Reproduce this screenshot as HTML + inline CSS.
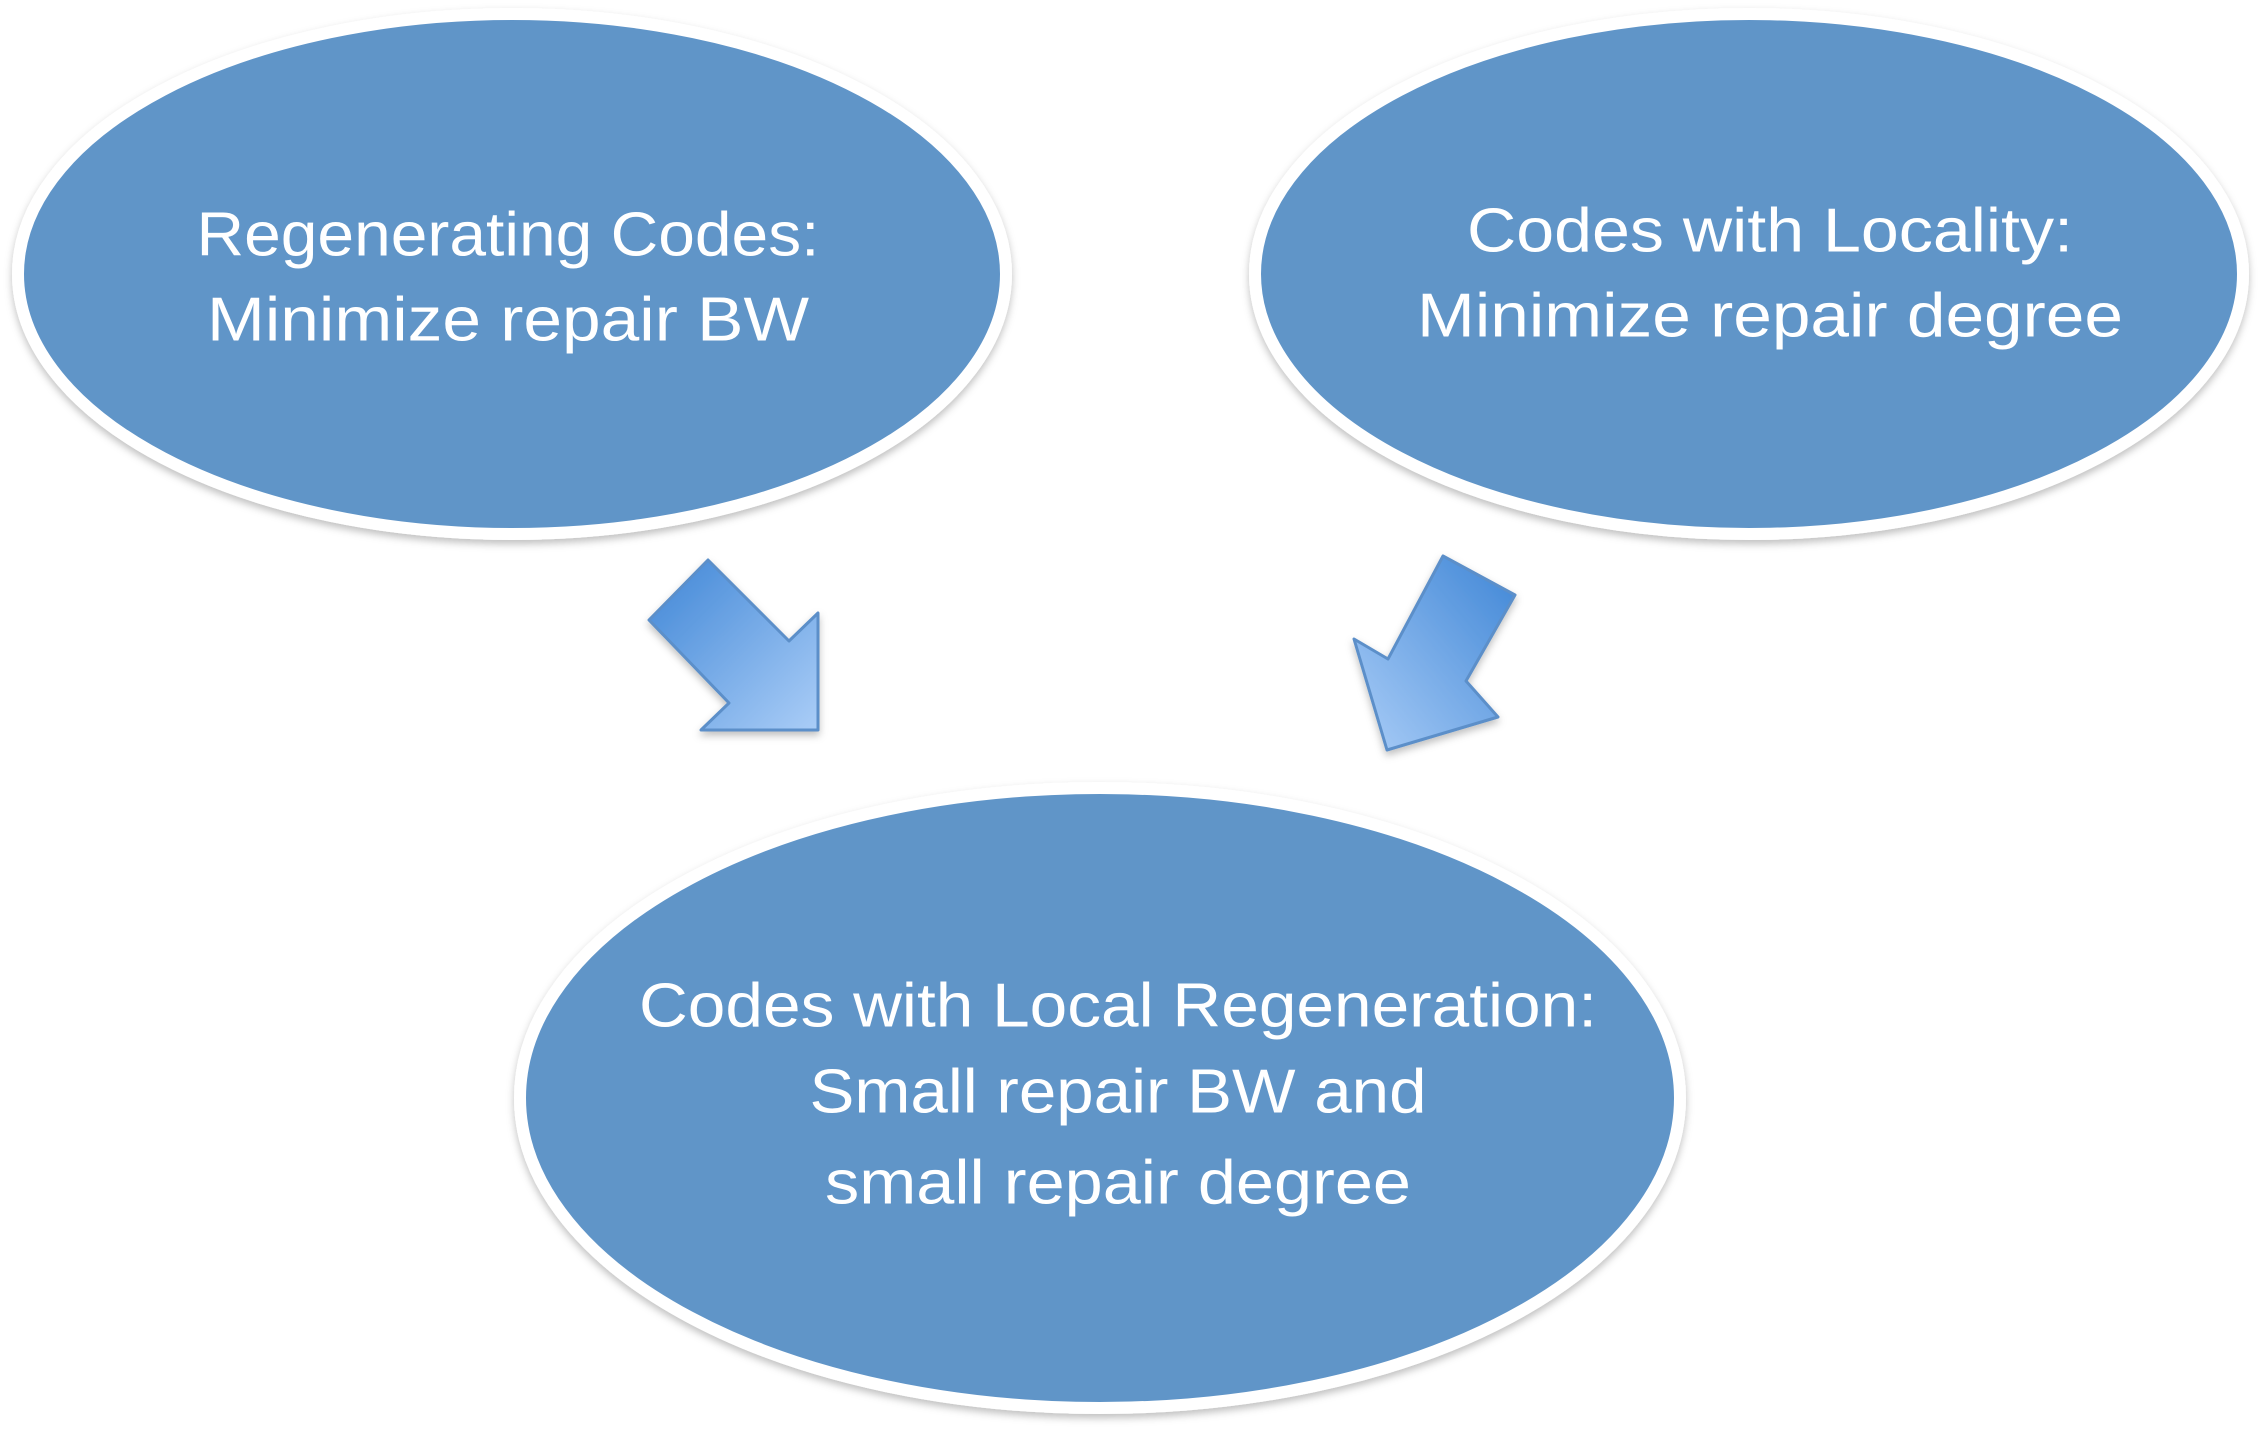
<!DOCTYPE html>
<html><head><meta charset="utf-8"><style>html,body{margin:0;padding:0;background:#fff}svg{display:block}</style></head>
<body>
<svg width="2262" height="1435" viewBox="0 0 2262 1435" xmlns="http://www.w3.org/2000/svg">
<defs>
<linearGradient id="g" x1="0" y1="0" x2="1" y2="1">
<stop offset="0" stop-color="#3f86d6"/><stop offset="1" stop-color="#aacdf7"/>
</linearGradient>
<linearGradient id="g2" x1="1" y1="0" x2="0" y2="1">
<stop offset="0" stop-color="#3f86d6"/><stop offset="1" stop-color="#aacdf7"/>
</linearGradient>
<filter id="s" x="-5%" y="-5%" width="110%" height="115%"><feDropShadow dx="0" dy="4" stdDeviation="4" flood-color="#000" flood-opacity="0.25"/></filter>
</defs>
<g filter="url(#s)" fill="#6195c8" stroke="#fff" stroke-width="12">
<ellipse cx="512" cy="274" rx="494" ry="260"/>
<ellipse cx="1749" cy="274" rx="494" ry="260"/>
<ellipse cx="1100" cy="1098" rx="580" ry="310"/>
</g>
<g fill="#fff" font-family="Liberation Sans, sans-serif" font-size="62" text-anchor="middle" dominant-baseline="central" lengthAdjust="spacingAndGlyphs">
<text x="508" y="235" textLength="623" lengthAdjust="spacingAndGlyphs">Regenerating Codes:</text>
<text x="508" y="320" textLength="602" lengthAdjust="spacingAndGlyphs">Minimize repair BW</text>
<text x="1770" y="231" textLength="606" lengthAdjust="spacingAndGlyphs">Codes with Locality:</text>
<text x="1770" y="316" textLength="706" lengthAdjust="spacingAndGlyphs">Minimize repair degree</text>
<text x="1118" y="1006" textLength="958" lengthAdjust="spacingAndGlyphs">Codes with Local Regeneration:</text>
<text x="1118" y="1092" textLength="617" lengthAdjust="spacingAndGlyphs">Small repair BW and</text>
<text x="1118" y="1183" textLength="586" lengthAdjust="spacingAndGlyphs">small repair degree</text>
</g>
<g stroke="#5b8fc9" stroke-width="3" stroke-linejoin="round" filter="url(#s)">
<polygon points="649,620 708,560 789,641 818,613 818,730 701,730 729,703" fill="url(#g)"/>
<polygon points="1443,556 1515,595 1466,681 1498,717 1387,750 1354,639 1388,659" fill="url(#g2)"/>
</g>
</svg>
</body></html>
